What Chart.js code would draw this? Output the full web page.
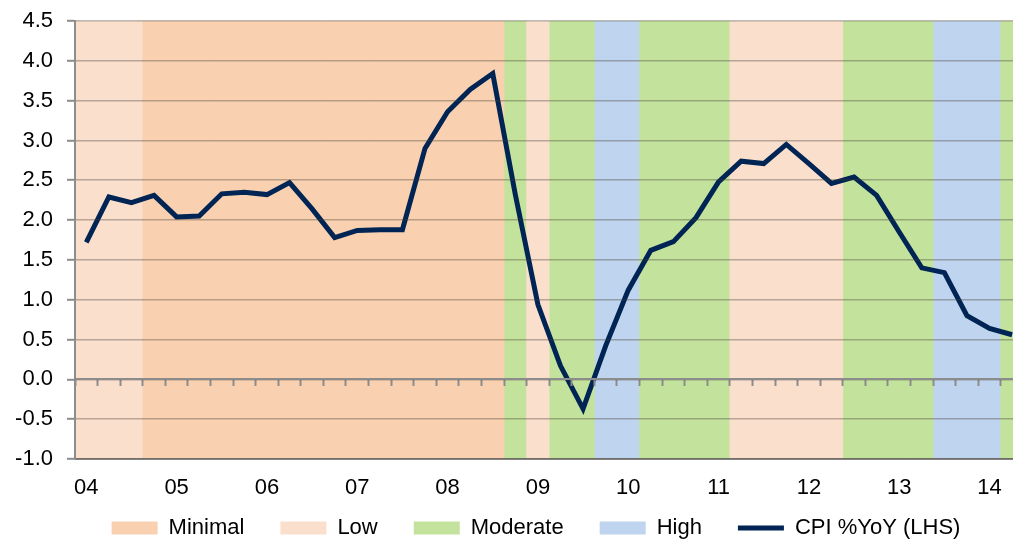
<!DOCTYPE html>
<html lang="en">
<head>
    <meta charset="UTF-8">
    <title>CPI %YoY and inflation regimes</title>
    <script src="https://cdn.jsdelivr.net/npm/chart.js"></script>
    <style>
        html, body {
            margin: 0;
            padding: 0;
            overflow: hidden;
            background: #ffffff;
        }
        #wrap {
            width: 1013px;
            height: 540px;
            overflow: hidden;
        }
    </style>
</head>
<body>
<div id="wrap">
    <canvas id="cpiChart" width="1072" height="549"></canvas>
</div>
<script>
// years shown on the axis, one label per Q1
const yearLabels = ['04', '05', '06', '07', '08', '09', '10', '11', '12', '13', '14'];

// CPI %YoY, quarterly from 2004 Q1
const cpiValues = [1.72, 2.29, 2.22, 2.31, 2.04, 2.05, 2.33, 2.35, 2.32, 2.47, 2.14, 1.78,
    1.87, 1.88, 1.88, 2.90, 3.36, 3.64, 3.84, 2.32, 0.94, 0.17, -0.37, 0.42,
    1.12, 1.62, 1.73, 2.03, 2.48, 2.74, 2.71, 2.95, 2.71, 2.46, 2.54, 2.31,
    1.85, 1.40, 1.34, 0.80, 0.64, 0.56];

// regime for each quarter (background shading)
const regimes = ['Low', 'Low', 'Low',
    'Minimal', 'Minimal', 'Minimal', 'Minimal', 'Minimal', 'Minimal', 'Minimal', 'Minimal',
    'Minimal', 'Minimal', 'Minimal', 'Minimal', 'Minimal', 'Minimal', 'Minimal', 'Minimal',
    'Moderate', 'Low', 'Moderate', 'Moderate', 'High', 'High',
    'Moderate', 'Moderate', 'Moderate', 'Moderate',
    'Low', 'Low', 'Low', 'Low', 'Low',
    'Moderate', 'Moderate', 'Moderate', 'Moderate',
    'High', 'High', 'High', 'Moderate'];

const regimeNames = ['Minimal', 'Low', 'Moderate', 'High'];
const regimeColours = ['#F9D1B1', '#FBDFCD', '#C3E39D', '#BFD4EE'];

const yMin = -1.0;
const yMax = 4.5;

const quarterLabels = [];
yearLabels.forEach(y => {
    ['Q1', 'Q2', 'Q3', 'Q4'].forEach(q => quarterLabels.push(y + ' ' + q));
});
const labels = quarterLabels.slice(0, cpiValues.length);

const lineColour = '#002554';
const axisGrey = '#8c8c8c';

const bandSets = regimeNames.map((name, k) => ({
    type: 'bar',
    label: name,
    data: regimes.map(r => r === name ? [yMin, yMax] : null),
    backgroundColor: regimeColours[k],
    borderWidth: 0,
    barPercentage: 1,
    categoryPercentage: 1,
    grouped: false,
    order: 1
}));

Chart.defaults.font.family = "'Liberation Sans', Arial, sans-serif";
Chart.defaults.color = '#000000';

const ctx = document.getElementById('cpiChart').getContext('2d');
new Chart(ctx, {
    type: 'bar',
    data: {
        labels: labels,
        datasets: bandSets.concat([{
            type: 'line',
            label: 'CPI %YoY (LHS)',
            data: cpiValues,
            borderColor: lineColour,
            backgroundColor: lineColour,
            borderWidth: 5,
            pointRadius: 0,
            tension: 0,
            fill: false,
            order: 0
        }])
    },
    options: {
        responsive: false,
        animation: false,
        devicePixelRatio: 1,
        layout: {
            padding: { top: 21, left: 0, right: 0, bottom: 0 }
        },
        plugins: {
            title: { display: false },
            tooltip: { enabled: false },
            legend: {
                position: 'bottom',
                labels: {
                    font: { size: 22 },
                    color: '#000000',
                    usePointStyle: true,
                    pointStyleWidth: 46,
                    boxHeight: 13,
                    padding: 36,
                    sort: (a, b) => a.datasetIndex - b.datasetIndex,
                    generateLabels(chart) {
                        const items = Chart.defaults.plugins.legend.labels.generateLabels(chart);
                        items.forEach(it => {
                            if (it.datasetIndex === regimeNames.length) {
                                it.pointStyle = 'line';
                                it.lineWidth = 5;
                                it.strokeStyle = lineColour;
                            } else {
                                it.pointStyle = 'rect';
                                it.lineWidth = 0;
                            }
                        });
                        return items;
                    }
                }
            }
        },
        scales: {
            x: {
                type: 'category',
                position: 'bottom',
                offset: true,
                grid: { display: false, drawTicks: false, offset: true },
                border: { display: true, color: 'rgba(110,110,110,0.75)', width: 2, z: 1 },
                ticks: { display: false },
                afterFit(scale) { scale.height = 22; }
            },
            // axis crossing at zero: tick marks, and the year labels pushed down below the plot
            x0: {
                type: 'category',
                position: { y: 0 },
                offset: true,
                grid: {
                    offset: true,
                    drawOnChartArea: false,
                    drawTicks: true,
                    tickLength: 6,
                    tickColor: axisGrey,
                    tickWidth: 2,
                    z: 1
                },
                border: { display: true, color: axisGrey, width: 2, z: 2 },
                ticks: {
                    autoSkip: false,
                    maxRotation: 0,
                    padding: 89,
                    font: { size: 22 },
                    color: '#000000',
                    callback: (v, i) => i % 4 === 0 ? yearLabels[i / 4] : ''
                },
                afterFit(scale) {
                    scale.paddingLeft = 0;
                    scale.paddingRight = 0;
                }
            },
            y: {
                min: yMin,
                max: yMax,
                grid: {
                    color: 'rgba(70,60,50,0.36)',
                    lineWidth: 1.6,
                    tickLength: 8,
                    tickColor: axisGrey,
                    tickWidth: 2,
                    z: 1
                },
                border: { display: true, color: axisGrey, width: 2, z: 2 },
                ticks: {
                    stepSize: 0.5,
                    padding: 14,
                    font: { size: 22 },
                    color: '#000000',
                    callback: v => v.toFixed(1)
                },
                afterFit(scale) {
                    scale.width = 75;
                    scale.paddingTop = 0;
                    scale.paddingBottom = 0;
                }
            },
            yr: {
                position: 'right',
                display: true,
                grid: { display: false, drawTicks: false },
                border: { display: false },
                ticks: { display: false },
                afterFit(scale) { scale.width = 48.6; }
            }
        }
    }
});
</script>
</body>
</html>
